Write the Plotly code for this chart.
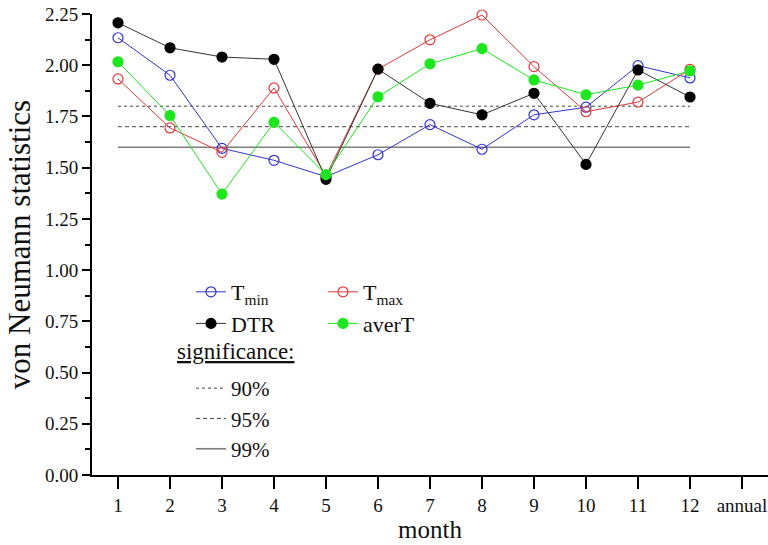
import plotly.graph_objects as go

months = list(range(1, 13))
tick_vals = list(range(1, 14))
tick_text = ["1", "2", "3", "4", "5", "6", "7", "8", "9", "10", "11", "12", "annual"]

tmin = [2.134, 1.951, 1.594, 1.536, 1.456, 1.563, 1.710, 1.590, 1.758, 1.795, 1.998, 1.938]
tmax = [1.933, 1.694, 1.575, 1.889, 1.460, 1.981, 2.124, 2.245, 1.993, 1.773, 1.820, 1.980]
dtr = [2.207, 2.085, 2.040, 2.029, 1.443, 1.981, 1.814, 1.758, 1.863, 1.516, 1.977, 1.845]
avert = [2.017, 1.754, 1.371, 1.721, 1.466, 1.846, 2.007, 2.081, 1.928, 1.856, 1.903, 1.972]

sig_levels = {"90%": 1.80, "95%": 1.70, "99%": 1.60}
sig_x = [1, 12]

FONT = "Liberation Serif"

fig = go.Figure()

sig_styles = {
    "90%": dict(color="#444444", width=1, dash="dot"),
    "95%": dict(color="#444444", width=1, dash="4px,3px"),
    "99%": dict(color="#7f7f7f", width=1.6, dash="solid"),
}
for name, val in sig_levels.items():
    fig.add_trace(go.Scatter(
        x=sig_x, y=[val, val], mode="lines", name=name,
        line=sig_styles[name], legend="legend3", hoverinfo="skip",
    ))

series = [
    ("T<sub>min</sub>", tmin, "#3333cc", "circle-open", "legend"),
    ("T<sub>max</sub>", tmax, "#e03a3a", "circle-open", "legend2"),
    ("DTR", dtr, "#000000", "circle", "legend"),
    ("averT", avert, "#1ee61e", "circle", "legend2"),
]
for name, vals, col, sym, lg in series:
    line_col = "#333333" if name == "DTR" else col
    fig.add_trace(go.Scatter(
        x=months, y=vals, mode="lines+markers", name=name,
        line=dict(color=line_col, width=1),
        marker=dict(color=col, symbol=sym, size=10,
                    line=dict(color=col, width=1.2)),
        legend=lg, cliponaxis=False,
    ))

def legend_style(size):
    return dict(
        bgcolor="rgba(0,0,0,0)", font=dict(family=FONT, size=size, color="#111111"),
        yanchor="top", xanchor="left", tracegroupgap=0, itemwidth=30,
    )

PW, PH = 768, 545
L, T, B = 92, 14, 70
plot_w = PW - L
plot_h = PH - T - B

def px_x(x):
    return (x - L) / plot_w

def px_y(y):
    return 1 - (y - T) / plot_h

fig.update_layout(
    width=PW, height=PH,
    margin=dict(l=L, r=0, t=T, b=B, autoexpand=False),
    paper_bgcolor="white", plot_bgcolor="white",
    font=dict(family=FONT, color="#111111"),
    showlegend=True,
    legend=dict(x=px_x(191), y=px_y(271), **legend_style(22)),
    legend2=dict(x=px_x(323), y=px_y(271), **legend_style(22)),
    legend3=dict(x=px_x(191), y=px_y(368), **legend_style(21)),
    annotations=[dict(
        text="<u>significance:</u>", xref="paper", yref="paper",
        x=px_x(175), y=px_y(351), xanchor="left", yanchor="middle",
        showarrow=False, font=dict(family=FONT, size=23, color="#111111"),
    )],
    xaxis=dict(
        range=[0.5, 13.5], tickmode="array", tickvals=tick_vals, ticktext=tick_text,
        automargin=False, ticklabeloverflow="allow",
        showgrid=False, zeroline=False, showline=True, linecolor="#000000", linewidth=2,
        ticks="outside", ticklen=12, tickwidth=1.5, tickcolor="#000000",
        tickfont=dict(family=FONT, size=19, color="#111111"),
        title=dict(text="month", font=dict(family=FONT, size=25), standoff=4),
    ),
    yaxis=dict(
        range=[0, 2.25], tickmode="linear", tick0=0, dtick=0.25, tickformat=".2f",
        automargin=False, ticklabeloverflow="allow",
        showgrid=False, zeroline=False, showline=True, linecolor="#000000", linewidth=2,
        ticks="outside", ticklen=8, tickwidth=1.5, tickcolor="#000000",
        minor=dict(ticks="outside", ticklen=5, dtick=0.125, tickwidth=1.5, tickcolor="#000000", showgrid=False),
        tickfont=dict(family=FONT, size=19, color="#111111"),
        title=dict(text="von Neumann statistics", font=dict(family=FONT, size=31), standoff=5),
    ),
)

fig.write_html("out.html", config={"displayModeBar": False},
               post_script="document.body.style.margin='0';")
